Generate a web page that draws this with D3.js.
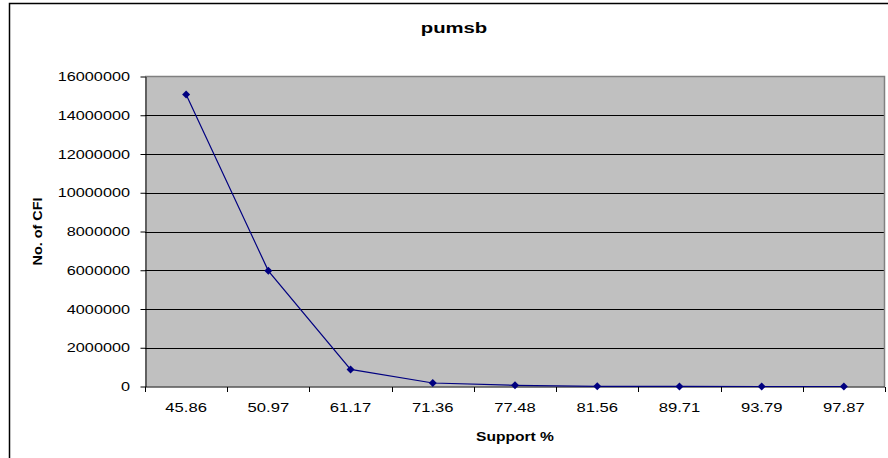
<!DOCTYPE html>
<html>
<head>
<meta charset="utf-8">
<script src="https://cdn.jsdelivr.net/npm/d3@7"></script>
<style>
  html, body { margin: 0; padding: 0; background: #fff; }
  svg { display: block; font-family: Arial, "Liberation Sans", sans-serif; }
</style>
</head>
<body>
<svg id="chart" width="888" height="458"></svg>
<script>
// Support thresholds (x categories) and number of closed frequent itemsets
const supports = ["45.86", "50.97", "61.17", "71.36", "77.48", "81.56", "89.71", "93.79", "97.87"];
const cfiCounts = [15070000, 5970000, 880000, 180000, 60000, 8000, 3000, 1000, 500];
const yTicks = [0, 2000000, 4000000, 6000000, 8000000, 10000000, 12000000, 14000000, 16000000];

const chartTitle = "pumsb";
const xTitle = "Support %";
const yTitle = "No. of CFI";

const svg = d3.select("#chart");
const W = 888, H = 458;
const plot = { left: 145, right: 885, top: 76.5, bottom: 386.5 };

// the exported chart uses a wide face; stretch text horizontally
function wideText(sel, x, y, sx, rotate) {
  return sel.append("text")
    .attr("transform", `translate(${x},${y})${rotate ? " rotate(-90)" : ""} scale(${sx},1)`);
}

// outer chart frame
svg.append("rect")
  .attr("x", 9.5).attr("y", 3.5)
  .attr("width", W + 20).attr("height", H + 20)
  .attr("fill", "#fff").attr("stroke", "#000").attr("stroke-width", 1.5);

const x = d3.scaleBand().domain(supports).range([plot.left, plot.right]);
const y = d3.scaleLinear().domain([0, 16000000]).range([plot.bottom, plot.top]);

// plot background
svg.append("rect")
  .attr("x", plot.left).attr("y", plot.top)
  .attr("width", plot.right - plot.left).attr("height", plot.bottom - plot.top)
  .attr("fill", "#C0C0C0");

// horizontal gridlines
svg.append("g").selectAll("line")
  .data(yTicks.filter(v => v > 0 && v < 16000000))
  .join("line")
  .attr("x1", plot.left).attr("x2", plot.right)
  .attr("y1", d => Math.round(y(d)) + 0.5).attr("y2", d => Math.round(y(d)) + 0.5)
  .attr("stroke", "#000").attr("stroke-width", 1);

// plot border top and right
svg.append("path")
  .attr("d", `M${plot.left},${plot.top}H${plot.right - 0.5}V${plot.bottom}`)
  .attr("fill", "none").attr("stroke", "#808080").attr("stroke-width", 1.5);

// y axis line and ticks
const yAxis = svg.append("g")
  .attr("transform", `translate(${plot.left + 0.5},0)`)
  .call(d3.axisLeft(y).tickValues(yTicks).tickFormat("").tickSize(5).tickSizeOuter(0));
yAxis.select(".domain").attr("stroke", "#000");
yAxis.selectAll(".tick line").attr("stroke", "#000");

// y tick labels
const yLab = svg.append("g");
yTicks.forEach(v => {
  wideText(yLab, 130, y(v), 1.3)
    .attr("text-anchor", "end")
    .attr("dy", "0.36em")
    .attr("font-size", 12.5)
    .attr("fill", "#000")
    .text(d3.format("d")(v));
});

// x axis: ticks at category boundaries
const xAxisG = svg.append("g").attr("transform", `translate(0,${plot.bottom + 0.5})`);
xAxisG.append("line")
  .attr("x1", plot.left).attr("x2", plot.right)
  .attr("stroke", "#000");
const boundaries = supports.map(s => x(s)).concat([x(supports[supports.length - 1]) + x.bandwidth()]);
xAxisG.selectAll("line.tk").data(boundaries).join("line")
  .attr("class", "tk")
  .attr("x1", d => Math.round(d) + 0.5).attr("x2", d => Math.round(d) + 0.5)
  .attr("y1", 0).attr("y2", 5)
  .attr("stroke", "#000");
supports.forEach(s => {
  wideText(xAxisG, x(s) + x.bandwidth() / 2, 25, 1.33)
    .attr("text-anchor", "middle")
    .attr("font-size", 12.5)
    .attr("fill", "#000")
    .text(s);
});

// data line
const line = d3.line()
  .x((d, i) => x(supports[i]) + x.bandwidth() / 2)
  .y(d => y(d));
svg.append("path")
  .datum(cfiCounts)
  .attr("d", line)
  .attr("fill", "none")
  .attr("stroke", "#000080")
  .attr("stroke-width", 1.2);

// diamond markers
svg.append("g").selectAll("path")
  .data(cfiCounts)
  .join("path")
  .attr("transform", (d, i) => `translate(${x(supports[i]) + x.bandwidth() / 2},${y(d)})`)
  .attr("d", "M0,-4L4,0L0,4L-4,0Z")
  .attr("fill", "#000080");

// titles
wideText(svg, 454, 33, 1.4)
  .attr("text-anchor", "middle")
  .attr("font-size", 14.5).attr("font-weight", "bold")
  .text(chartTitle);

wideText(svg, (plot.left + plot.right) / 2, 441, 1.25)
  .attr("text-anchor", "middle")
  .attr("font-size", 12.5).attr("font-weight", "bold")
  .text(xTitle);

wideText(svg, 42, (plot.top + plot.bottom) / 2, 1.15, true)
  .attr("text-anchor", "middle")
  .attr("font-size", 12.5).attr("font-weight", "bold")
  .text(yTitle);
</script>
</body>
</html>
